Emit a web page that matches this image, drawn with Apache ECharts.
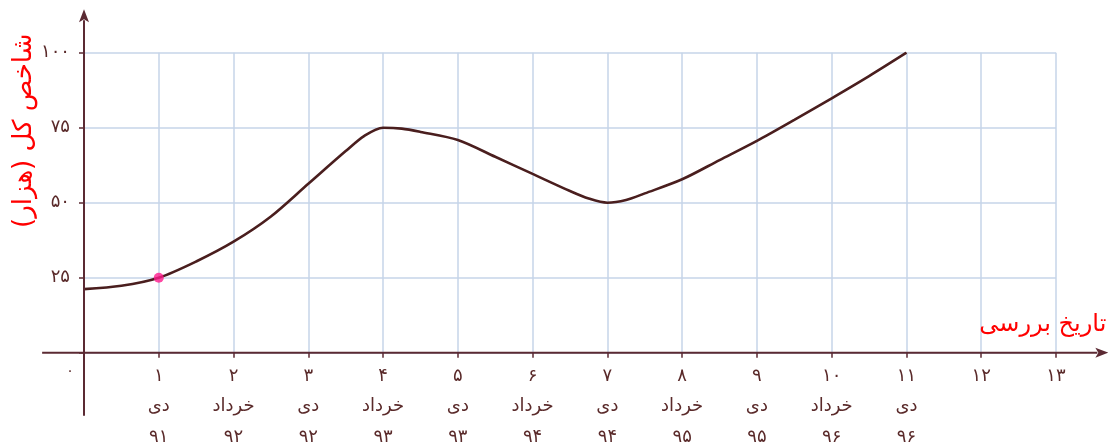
<!DOCTYPE html>
<html>
<head>
<meta charset="utf-8">
<script src="https://cdn.jsdelivr.net/npm/echarts@6/dist/echarts.min.js"></script>
<style>
html,body{margin:0;padding:0;background:#fff;}
#chart{width:1108px;height:443px;}
</style>
</head>
<body>
<div id="chart"></div>
<script>
// ---- data ----
const xValues = [0, 0.5, 1, 1.5, 2, 2.5, 3, 3.5, 3.75, 4, 4.25, 4.5, 5, 5.5, 6, 6.5, 6.75, 7, 7.25, 7.5, 8, 8.5, 9, 9.5, 10, 10.5, 11];
const indexValues = [21.2, 22.3, 25, 30.4, 37.0, 45.4, 56.3, 67.2, 72.3, 75, 74.7, 73.6, 70.9, 65.3, 59.6, 53.9, 51.4, 50, 50.9, 53.1, 57.8, 64.2, 70.6, 77.6, 84.8, 92.2, 100];
const highlightPoint = [1, 25];
const tickNumbers = ['۰', '۱', '۲', '۳', '۴', '۵', '۶', '۷', '۸', '۹', '۱۰', '۱۱', '۱۲', '۱۳'];
const tickMonths = ['', 'دی', 'خرداد', 'دی', 'خرداد', 'دی', 'خرداد', 'دی', 'خرداد', 'دی', 'خرداد', 'دی', '', ''];
const tickYears = ['', '۹۱', '۹۲', '۹۲', '۹۳', '۹۳', '۹۴', '۹۴', '۹۵', '۹۵', '۹۶', '۹۶', '', ''];
const yTickLabels = {25: '۲۵', 50: '۵۰', 75: '۷۵', 100: '۱۰۰'};
const yTitle = 'شاخص کل (هزار)';
const xTitle = 'تاریخ بررسی';

const FONT = '"DejaVu Sans", sans-serif';
const AXIS_COLOR = '#5b2a33';
const LABEL_COLOR = '#5a2a2a';
const GRID_COLOR = '#c6d5e9';

const chart = echarts.init(document.getElementById('chart'));
const option = {
  animation: false,
  grid: {left: 84, right: 52, top: 52.7, bottom: 90.3, containLabel: false, outerBoundsMode: 'none'},
  xAxis: {
    type: 'value', min: 0, max: 13, interval: 1,
    axisLine: {show: false},
    axisTick: {show: true, length: 5, inside: false, lineStyle: {color: AXIS_COLOR, width: 1.5}},
    splitLine: {show: true, lineStyle: {color: GRID_COLOR, width: 1.5}},
    axisLabel: {
      margin: 8,
      color: LABEL_COLOR,
      fontFamily: FONT,
      fontSize: 18,
      lineHeight: 30.5,
      formatter: function (v) {
        const i = Math.round(v);
        if (i === 0) return '{z|' + tickNumbers[0] + '}';
        const parts = [tickNumbers[i]];
        if (tickMonths[i]) parts.push(tickMonths[i]);
        if (tickYears[i]) parts.push(tickYears[i]);
        return parts.join('\n');
      },
      rich: {z: {fontFamily: FONT, fontSize: 14, lineHeight: 22, color: LABEL_COLOR, padding: [0, 28, 0, 0]}}
    }
  },
  yAxis: {
    type: 'value', min: 0, max: 100, interval: 25,
    axisLine: {show: false},
    axisTick: {show: true, length: 5, lineStyle: {color: AXIS_COLOR, width: 1.5}},
    splitLine: {show: true, lineStyle: {color: GRID_COLOR, width: 1.5}},
    axisLabel: {
      margin: 14,
      color: LABEL_COLOR,
      fontFamily: FONT,
      fontSize: 18,
      formatter: function (v) { return yTickLabels[v] || ''; }
    }
  },
  series: [
    {
      type: 'line',
      data: xValues.map((x, i) => [x, indexValues[i]]),
      smooth: 0.3,
      showSymbol: false,
      symbol: 'none',
      lineStyle: {color: '#4a1e1e', width: 2.6},
      z: 5
    },
    {
      type: 'scatter',
      data: [highlightPoint],
      symbolSize: 10,
      itemStyle: {color: '#ff1a8c'},
      z: 6
    }
  ]
};
chart.setOption(option);

function drawAxes() {
  const p0 = chart.convertToPixel({gridIndex: 0}, [0, 0]);
  const pLeft = chart.convertToPixel({gridIndex: 0}, [-0.56, 0]);
  const pRight = chart.convertToPixel({gridIndex: 0}, [13.7, 0]);
  const pBottom = chart.convertToPixel({gridIndex: 0}, [0, -21]);
  const pTop = chart.convertToPixel({gridIndex: 0}, [0, 114.5]);
  const ah = 13, aw = 5;
  const titleY = chart.convertToPixel({gridIndex: 0}, [0, 74]);
  const titleX = chart.convertToPixel({gridIndex: 0}, [13.7, 9]);
  chart.setOption({
    graphic: [
      {type: 'line', shape: {x1: pLeft[0], y1: p0[1], x2: pRight[0] - ah + 2, y2: p0[1]},
       style: {stroke: AXIS_COLOR, lineWidth: 2}, z: 10},
      {type: 'polygon', shape: {points: [[pRight[0], p0[1]], [pRight[0] - ah, p0[1] - aw], [pRight[0] - ah + 3, p0[1]], [pRight[0] - ah, p0[1] + aw]]},
       style: {fill: AXIS_COLOR}, z: 10},
      {type: 'line', shape: {x1: p0[0], y1: pBottom[1], x2: p0[0], y2: pTop[1] + ah - 2},
       style: {stroke: AXIS_COLOR, lineWidth: 2}, z: 10},
      {type: 'polygon', shape: {points: [[p0[0], pTop[1]], [p0[0] - aw, pTop[1] + ah], [p0[0], pTop[1] + ah - 3], [p0[0] + aw, pTop[1] + ah]]},
       style: {fill: AXIS_COLOR}, z: 10},
      {type: 'text', x: 24, y: titleY[1], rotation: Math.PI / 2,
       style: {text: yTitle, fill: '#ff0000', font: '26px ' + FONT, align: 'center', verticalAlign: 'middle'}, z: 10},
      {type: 'text', x: pRight[0] - 2, y: titleX[1] - 1,
       style: {text: xTitle, fill: '#ff0000', font: '24px ' + FONT, align: 'right', verticalAlign: 'middle'}, z: 10}
    ]
  });
}
drawAxes();
</script>
</body>
</html>
